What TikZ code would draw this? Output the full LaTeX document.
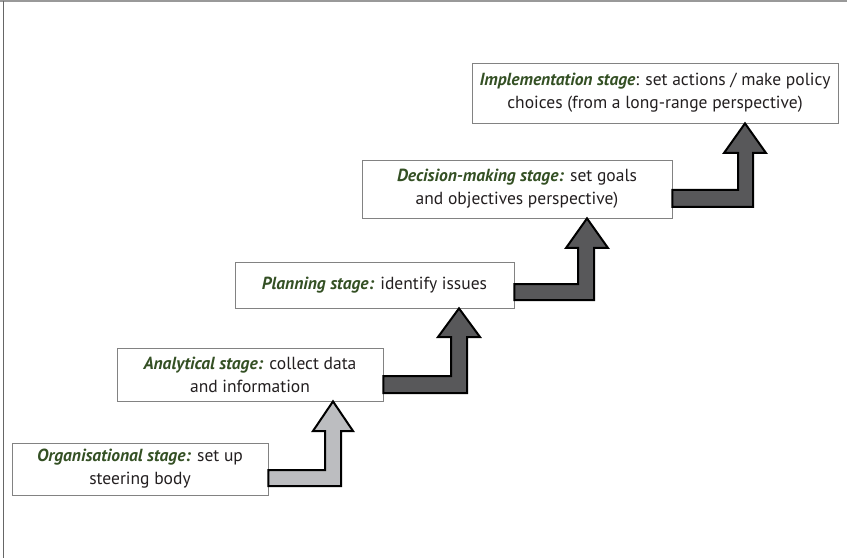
\documentclass[tikz,border=0pt]{standalone}
\usepackage{fontspec}
\setmainfont{PT Sans}
\definecolor{stagegreen}{RGB}{52,80,36}
\definecolor{textblack}{RGB}{35,31,32}
\definecolor{boxgray}{RGB}{130,130,130}
\definecolor{lightfill}{RGB}{188,189,192}
\definecolor{darkfill}{RGB}{88,88,90}
\newcommand{\stg}[1]{\textcolor{stagegreen}{\bfseries\itshape #1}}
\begin{document}
\begin{tikzpicture}[x=1pt,y=-1pt,
  stagebox/.style={draw=boxgray, line width=0.8pt, fill=white, inner sep=0pt,
    align=center, text=textblack, font=\fontsize{17.5}{23}\selectfont},
  stairarrow/.style={draw=black, line width=2pt, line join=miter}]
\useasboundingbox (0,0) rectangle (847,559);
% frame
\draw[line width=2pt, draw=black!40] (0,1.5) -- (847,1.5);
\draw[line width=1pt, draw=black!60] (3,1) -- (3,558);
% boxes
\node[stagebox, minimum width=256, minimum height=52] (org) at (140,469)
  {\stg{Organisational stage:} set up\\steering body};
\node[stagebox, minimum width=266, minimum height=53] (ana) at (250,374.5)
  {\stg{Analytical stage:} collect data\\and information};
\node[stagebox, minimum width=279, minimum height=46] (plan) at (374.5,285)
  {\stg{Planning stage:} identify issues};
\node[stagebox, minimum width=310, minimum height=58] (dec) at (517,189)
  {\stg{Decision-making stage:} set goals\\and objectives perspective)};
\node[stagebox, minimum width=366, minimum height=60] (imp) at (655,93)
  {\stg{Implementation stage}: set actions / make policy\\choices (from a long-range perspective)};
% stair arrows
\draw[stairarrow, fill=lightfill] (org.east |- 0,470) -- (325,470) -- (325,431) -- (313,431)
  -- (333,0 |- ana.south) -- (353,431) -- (341,431) -- (341,486) -- (org.east |- 0,486) -- cycle;
\draw[stairarrow, fill=darkfill] (ana.east |- 0,376) -- (451,376) -- (451,337) -- (438,337)
  -- (459,0 |- plan.south) -- (480,337) -- (467,337) -- (467,393) -- (ana.east |- 0,393) -- cycle;
\draw[stairarrow, fill=darkfill] (plan.east |- 0,284) -- (578,284) -- (578,248) -- (566,248)
  -- (587,0 |- dec.south) -- (608,248) -- (594,248) -- (594,300) -- (plan.east |- 0,300) -- cycle;
\draw[stairarrow, fill=darkfill] (dec.east |- 0,190) -- (738,190) -- (738,153) -- (724,153)
  -- (745,0 |- imp.south) -- (766,153) -- (753,153) -- (753,207) -- (dec.east |- 0,207) -- cycle;
\end{tikzpicture}
\end{document}
